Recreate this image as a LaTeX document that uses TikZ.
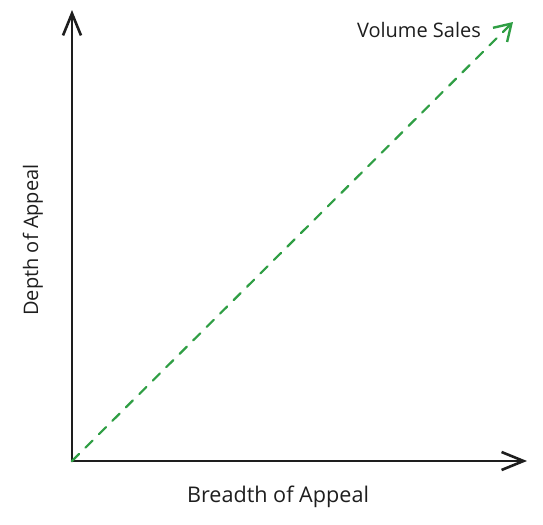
\documentclass[tikz,border=0pt]{standalone}
\usepackage{fontspec}
\setmainfont{Open Sans}
\usetikzlibrary{arrows.meta}
\definecolor{axisdark}{HTML}{1E1E1E}
\definecolor{salesgreen}{HTML}{2F9E44}
\tikzset{
  axis/.style={-{Straight Barb[length=11pt, width=9pt, line width=1.3pt]},
    line width=1.4pt, color=axisdark, line cap=round},
  salesline/.style={-{Straight Barb[length=8pt, width=10pt, line width=1.2pt]},
    line width=1.1pt, color=salesgreen, dash pattern=on 5pt off 4.5pt, line cap=round},
  axlabel/.style={font=\normalsize, text=axisdark, inner sep=0pt},
}
\begin{document}
\begin{tikzpicture}[x=0.5pt,y=-0.5pt]
  \useasboundingbox (0,0) rectangle (543,525);
  % axes
  \coordinate (orig) at (72,461);
  \coordinate (ytop) at (72,10);
  \coordinate (xend) at (527,461);
  \coordinate (sales) at (513,22);
  \draw[axis] (orig) -- (ytop);
  \draw[axis] (orig) -- (xend);
  % volume line
  \draw[salesline] (orig) -- (sales);
  % labels
  \node[axlabel] (vol) at (419,30) {Volume Sales};
  \node[axlabel, rotate=90] (depth) at (33,240) {Depth of Appeal};
  \node[axlabel, font=\fontsize{10.8}{13}\selectfont] (breadth) at (278,497) {Breadth of Appeal};
\end{tikzpicture}
\end{document}
